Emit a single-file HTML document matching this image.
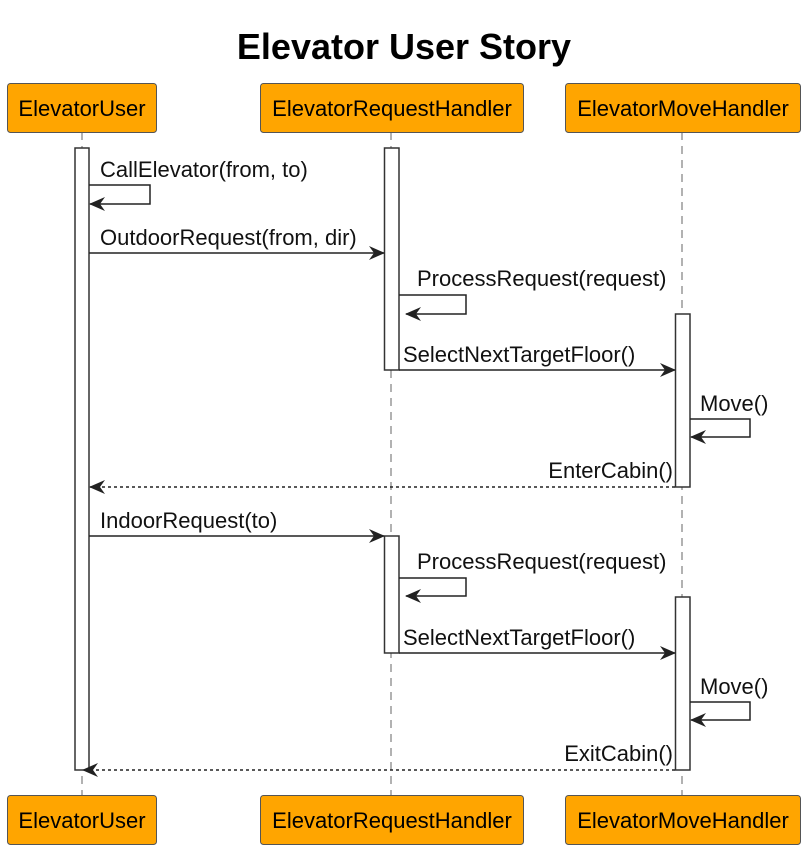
<!DOCTYPE html>
<html><head><style>body{margin:0;background:#fff}</style></head><body>
<svg width="810" height="859" xmlns="http://www.w3.org/2000/svg" font-family="Liberation Sans, Arial, sans-serif">
<defs><marker id="a" markerWidth="16" markerHeight="14" refX="15" refY="7" orient="auto" markerUnits="userSpaceOnUse"><path d="M0,0 L16,7 L0,14 L5,7 Z" fill="#222"/></marker></defs>
<rect width="810" height="859" fill="#fff"/>
<text x="404" y="59" text-anchor="middle" font-size="36" font-weight="bold" fill="#000">Elevator User Story</text>
<g stroke="#999" stroke-width="1.5" stroke-dasharray="8,6"><line x1="82" y1="132" x2="82" y2="795"/><line x1="391" y1="132" x2="391" y2="795"/><line x1="682" y1="132" x2="682" y2="795"/></g>
<g fill="#FFA500" stroke="#555" stroke-width="1">
<rect x="7.5" y="83.5" width="149" height="49" rx="3"/><rect x="260.5" y="83.5" width="263" height="49" rx="3"/><rect x="565.5" y="83.5" width="235" height="49" rx="3"/>
<rect x="7.5" y="795.5" width="149" height="49" rx="3"/><rect x="260.5" y="795.5" width="263" height="49" rx="3"/><rect x="565.5" y="795.5" width="235" height="49" rx="3"/>
</g>
<g font-size="22" fill="#000" text-anchor="middle">
<text x="82" y="116">ElevatorUser</text><text x="392" y="116">ElevatorRequestHandler</text><text x="683" y="116">ElevatorMoveHandler</text>
<text x="82" y="828">ElevatorUser</text><text x="392" y="828">ElevatorRequestHandler</text><text x="683" y="828">ElevatorMoveHandler</text>
</g>
<g fill="#fff" stroke="#333" stroke-width="1.5">
<rect x="75" y="148" width="14" height="622"/><rect x="384.5" y="148" width="14.5" height="222"/><rect x="384.5" y="536" width="14.5" height="117"/>
<rect x="675.5" y="314" width="14.5" height="173"/><rect x="675.5" y="597" width="14.5" height="173"/>
</g>
<g stroke="#222" stroke-width="1.5" fill="none" marker-end="url(#a)">
<polyline points="89,185 150,185 150,204 90,204"/>
<line x1="89" y1="253" x2="384" y2="253"/>
<polyline points="399,295 466,295 466,314 406,314"/>
<line x1="399" y1="370" x2="675" y2="370"/>
<polyline points="690,419 750,419 750,437 691,437"/>
<line x1="675" y1="487" x2="90" y2="487" stroke-dasharray="3,3"/>
<line x1="89" y1="536" x2="384" y2="536"/>
<polyline points="399,578 466,578 466,596 406,596"/>
<line x1="399" y1="653" x2="675" y2="653"/>
<polyline points="690,702 750,702 750,720 691,720"/>
<line x1="675" y1="770" x2="83" y2="770" stroke-dasharray="3,3"/>
</g>
<g font-size="22" fill="#111">
<text x="100" y="177">CallElevator(from, to)</text>
<text x="100" y="245">OutdoorRequest(from, dir)</text>
<text x="417" y="286">ProcessRequest(request)</text>
<text x="403" y="362">SelectNextTargetFloor()</text>
<text x="700" y="411">Move()</text>
<text x="673" y="478" text-anchor="end">EnterCabin()</text>
<text x="100" y="528">IndoorRequest(to)</text>
<text x="417" y="569">ProcessRequest(request)</text>
<text x="403" y="645">SelectNextTargetFloor()</text>
<text x="700" y="694">Move()</text>
<text x="673" y="761" text-anchor="end">ExitCabin()</text>
</g>
</svg>
</body></html>
